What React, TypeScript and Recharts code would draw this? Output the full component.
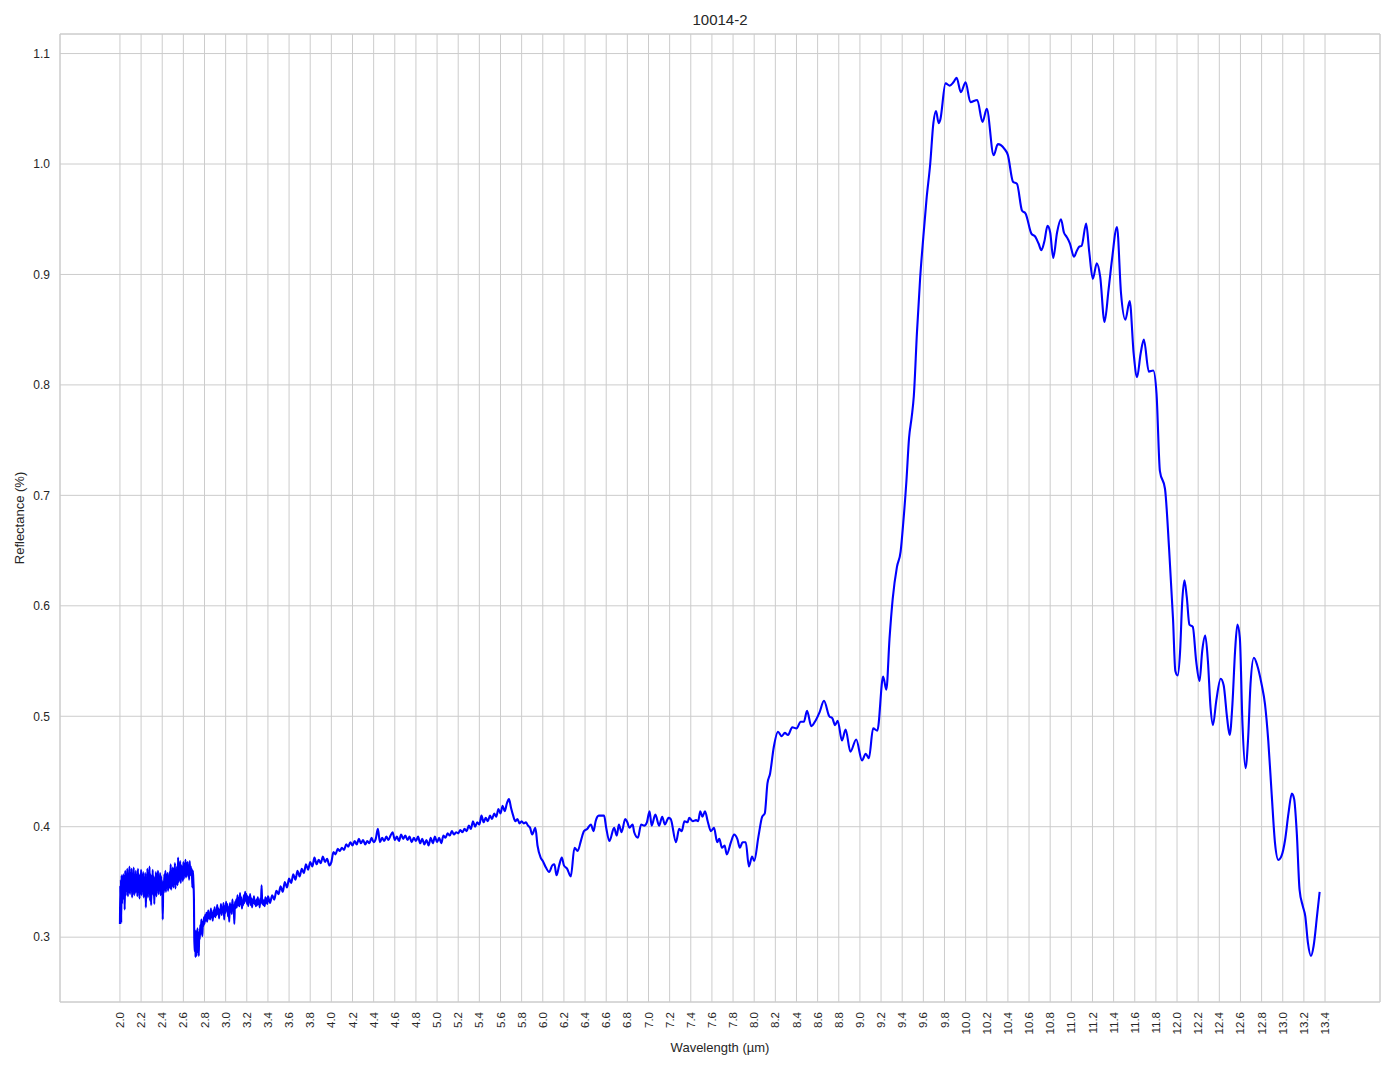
import React from "react";
import { LineChart, Line, XAxis, YAxis, CartesianGrid, ReferenceArea } from "recharts";

// wavelength (µm) / reflectance pairs, split by region
const SWIR_BAND: [number, number][] = [
  [2.000, 0.312], [2.003, 0.347], [2.006, 0.318], [2.009, 0.352], [2.012, 0.313], [2.016, 0.356],
  [2.020, 0.330], [2.024, 0.354], [2.028, 0.340], [2.032, 0.357], [2.036, 0.334], [2.040, 0.350],
  [2.045, 0.325], [2.050, 0.360], [2.055, 0.338], [2.060, 0.357], [2.065, 0.342], [2.070, 0.362],
  [2.075, 0.337], [2.080, 0.355], [2.085, 0.341], [2.090, 0.364], [2.095, 0.339], [2.100, 0.358],
  [2.105, 0.344], [2.110, 0.362], [2.115, 0.336], [2.120, 0.353], [2.125, 0.342], [2.130, 0.363],
  [2.135, 0.338], [2.140, 0.356], [2.145, 0.340], [2.150, 0.360], [2.155, 0.343], [2.160, 0.354],
  [2.165, 0.337], [2.170, 0.362], [2.175, 0.341], [2.180, 0.357], [2.185, 0.335], [2.190, 0.352],
  [2.195, 0.344], [2.200, 0.361], [2.205, 0.338], [2.210, 0.356], [2.215, 0.342], [2.220, 0.359],
  [2.225, 0.336], [2.230, 0.352], [2.235, 0.340], [2.240, 0.358], [2.245, 0.327], [2.250, 0.350],
  [2.255, 0.339], [2.260, 0.362], [2.265, 0.336], [2.270, 0.355], [2.275, 0.343], [2.280, 0.364],
  [2.285, 0.333], [2.290, 0.357], [2.295, 0.329], [2.300, 0.353], [2.305, 0.340], [2.310, 0.361],
  [2.315, 0.338], [2.320, 0.355], [2.325, 0.330], [2.330, 0.352], [2.335, 0.342], [2.340, 0.359],
  [2.345, 0.337], [2.350, 0.357], [2.355, 0.344], [2.360, 0.360], [2.365, 0.339], [2.370, 0.354],
  [2.375, 0.343], [2.380, 0.358], [2.385, 0.338], [2.390, 0.355], [2.395, 0.341], [2.400, 0.351],
  [2.405, 0.316], [2.410, 0.349], [2.415, 0.340], [2.420, 0.357], [2.425, 0.343], [2.430, 0.360],
  [2.435, 0.341], [2.440, 0.356], [2.445, 0.345], [2.450, 0.358], [2.455, 0.342], [2.460, 0.353],
  [2.465, 0.346], [2.470, 0.359], [2.475, 0.344], [2.480, 0.366], [2.485, 0.343], [2.490, 0.360],
  [2.495, 0.347], [2.500, 0.363], [2.505, 0.345], [2.510, 0.358], [2.515, 0.348], [2.520, 0.367],
  [2.525, 0.344], [2.530, 0.361], [2.535, 0.350], [2.540, 0.364], [2.545, 0.347], [2.550, 0.372],
  [2.555, 0.350], [2.560, 0.366], [2.565, 0.352], [2.570, 0.369], [2.575, 0.349], [2.580, 0.365],
  [2.585, 0.354], [2.590, 0.362], [2.595, 0.351], [2.600, 0.368], [2.605, 0.353], [2.610, 0.366],
  [2.615, 0.356], [2.620, 0.370], [2.625, 0.354], [2.630, 0.367], [2.635, 0.357], [2.640, 0.368],
  [2.645, 0.355], [2.650, 0.363], [2.655, 0.352], [2.660, 0.369], [2.665, 0.356], [2.670, 0.364],
  [2.675, 0.358], [2.680, 0.362], [2.685, 0.345],
];

const WATER_DIP: [number, number][] = [
  [2.690, 0.360], [2.695, 0.350], [2.700, 0.335], [2.703, 0.300], [2.706, 0.292], [2.709, 0.287],
  [2.712, 0.299], [2.715, 0.282], [2.718, 0.306], [2.721, 0.290], [2.724, 0.283], [2.727, 0.302],
  [2.730, 0.296], [2.734, 0.308], [2.738, 0.286], [2.742, 0.300], [2.746, 0.283], [2.750, 0.305],
  [2.755, 0.298], [2.760, 0.311], [2.765, 0.303], [2.770, 0.316], [2.775, 0.309], [2.780, 0.301],
  [2.785, 0.314], [2.790, 0.310], [2.795, 0.318], [2.800, 0.312], [2.806, 0.320], [2.812, 0.315],
  [2.818, 0.322], [2.824, 0.314], [2.830, 0.319], [2.836, 0.324], [2.842, 0.317], [2.848, 0.321],
  [2.854, 0.316], [2.860, 0.326], [2.866, 0.318], [2.872, 0.322], [2.878, 0.315], [2.884, 0.324],
  [2.890, 0.319], [2.896, 0.327], [2.902, 0.318], [2.908, 0.323], [2.914, 0.320], [2.920, 0.329],
  [2.926, 0.321], [2.932, 0.326], [2.938, 0.317], [2.944, 0.325], [2.950, 0.322], [2.956, 0.330],
  [2.962, 0.320], [2.968, 0.327], [2.974, 0.323], [2.980, 0.331], [2.986, 0.316], [2.992, 0.328],
  [2.998, 0.322], [3.004, 0.332], [3.010, 0.324], [3.016, 0.330], [3.022, 0.319], [3.028, 0.327],
  [3.034, 0.314], [3.040, 0.331], [3.046, 0.323], [3.052, 0.329], [3.058, 0.321], [3.064, 0.334],
  [3.070, 0.325], [3.076, 0.329], [3.082, 0.312], [3.088, 0.332], [3.094, 0.326], [3.100, 0.334],
  [3.106, 0.327], [3.112, 0.338], [3.118, 0.329], [3.124, 0.335], [3.130, 0.328], [3.136, 0.340],
  [3.142, 0.330], [3.148, 0.336], [3.154, 0.326], [3.160, 0.333], [3.166, 0.329], [3.172, 0.338],
  [3.178, 0.331], [3.184, 0.341], [3.190, 0.333], [3.196, 0.339], [3.202, 0.330], [3.208, 0.337],
  [3.214, 0.328], [3.220, 0.336], [3.226, 0.332], [3.232, 0.339], [3.238, 0.329], [3.244, 0.335],
  [3.250, 0.327], [3.256, 0.334], [3.262, 0.331], [3.268, 0.337], [3.274, 0.330], [3.280, 0.333],
  [3.286, 0.328], [3.292, 0.334], [3.298, 0.329], [3.304, 0.336], [3.310, 0.330], [3.316, 0.333],
  [3.322, 0.327], [3.328, 0.335], [3.334, 0.331], [3.340, 0.347], [3.346, 0.330], [3.352, 0.334],
  [3.358, 0.329], [3.364, 0.333], [3.370, 0.328], [3.376, 0.336], [3.382, 0.331], [3.388, 0.335],
  [3.394, 0.330], [3.400, 0.337],
];

const MWIR_RISE: [number, number][] = [
  [3.42, 0.331], [3.44, 0.338], [3.46, 0.334], [3.48, 0.342], [3.50, 0.339], [3.52, 0.346],
  [3.54, 0.341], [3.56, 0.350], [3.58, 0.345], [3.60, 0.353], [3.62, 0.349], [3.64, 0.357],
  [3.66, 0.352], [3.68, 0.360], [3.70, 0.355], [3.72, 0.362], [3.74, 0.358], [3.76, 0.366],
  [3.78, 0.361], [3.80, 0.368], [3.82, 0.364], [3.84, 0.372], [3.86, 0.366], [3.88, 0.370],
  [3.90, 0.367], [3.92, 0.373], [3.94, 0.368], [3.96, 0.371], [3.98, 0.365], [4.00, 0.368],
  [4.02, 0.377], [4.04, 0.375], [4.06, 0.380], [4.08, 0.378], [4.10, 0.381], [4.12, 0.379],
  [4.14, 0.384], [4.16, 0.382], [4.18, 0.386], [4.20, 0.383], [4.22, 0.387], [4.24, 0.384],
  [4.26, 0.389], [4.28, 0.385], [4.30, 0.388], [4.32, 0.384], [4.34, 0.387], [4.36, 0.385],
  [4.38, 0.390], [4.40, 0.386], [4.42, 0.389], [4.44, 0.398], [4.46, 0.386], [4.48, 0.390],
  [4.50, 0.387], [4.52, 0.391], [4.54, 0.388], [4.56, 0.392], [4.58, 0.395], [4.60, 0.388],
  [4.62, 0.391], [4.64, 0.387], [4.66, 0.393], [4.68, 0.389], [4.70, 0.392], [4.72, 0.388],
  [4.74, 0.391], [4.76, 0.386], [4.78, 0.390], [4.80, 0.387], [4.82, 0.391], [4.84, 0.385],
  [4.86, 0.389], [4.88, 0.384], [4.90, 0.388], [4.92, 0.383], [4.94, 0.390], [4.96, 0.385],
  [4.98, 0.391], [5.00, 0.386], [5.02, 0.390], [5.04, 0.385], [5.06, 0.392], [5.08, 0.390],
  [5.10, 0.394], [5.12, 0.392], [5.14, 0.396], [5.16, 0.393], [5.18, 0.395], [5.20, 0.394],
  [5.22, 0.397], [5.24, 0.395], [5.26, 0.398], [5.28, 0.396], [5.30, 0.401], [5.32, 0.398],
  [5.34, 0.405], [5.36, 0.400], [5.38, 0.404], [5.40, 0.402], [5.42, 0.410], [5.44, 0.404],
  [5.46, 0.408], [5.48, 0.405], [5.50, 0.410], [5.52, 0.407], [5.54, 0.412], [5.56, 0.409],
  [5.58, 0.416], [5.60, 0.412], [5.62, 0.419], [5.64, 0.414], [5.66, 0.421], [5.68, 0.425],
  [5.70, 0.417], [5.72, 0.410], [5.74, 0.405], [5.76, 0.407], [5.78, 0.403], [5.80, 0.405],
  [5.82, 0.403], [5.84, 0.404], [5.86, 0.401], [5.88, 0.399],
];

const MID_PLATEAU: [number, number][] = [
  [5.90, 0.393], [5.93, 0.399], [5.95, 0.383], [5.98, 0.372], [6.00, 0.369], [6.03, 0.363],
  [6.06, 0.359], [6.09, 0.365], [6.11, 0.366], [6.13, 0.356], [6.155, 0.365], [6.18, 0.372],
  [6.20, 0.365], [6.23, 0.362], [6.265, 0.355], [6.30, 0.381], [6.33, 0.378], [6.36, 0.387],
  [6.39, 0.396], [6.42, 0.398], [6.455, 0.402], [6.48, 0.396], [6.50, 0.405], [6.53, 0.410],
  [6.58, 0.410], [6.60, 0.399], [6.63, 0.387], [6.675, 0.399], [6.70, 0.392], [6.72, 0.402],
  [6.745, 0.395], [6.78, 0.407], [6.80, 0.404], [6.82, 0.399], [6.85, 0.402], [6.865, 0.395],
  [6.90, 0.390], [6.93, 0.402], [6.96, 0.401], [6.985, 0.404], [7.01, 0.414], [7.03, 0.401],
  [7.065, 0.411], [7.10, 0.401], [7.13, 0.409], [7.155, 0.402], [7.19, 0.408], [7.21, 0.407],
  [7.26, 0.386], [7.29, 0.398], [7.315, 0.396], [7.34, 0.405], [7.37, 0.404], [7.385, 0.408],
  [7.42, 0.405], [7.45, 0.406], [7.47, 0.405], [7.49, 0.414], [7.51, 0.409], [7.535, 0.414],
  [7.56, 0.405], [7.59, 0.396], [7.62, 0.399], [7.65, 0.386], [7.67, 0.389], [7.695, 0.381],
  [7.72, 0.383], [7.74, 0.375], [7.78, 0.386], [7.81, 0.393], [7.84, 0.389], [7.865, 0.381],
  [7.89, 0.386], [7.92, 0.386], [7.95, 0.364], [7.98, 0.373], [8.00, 0.369], [8.04, 0.391],
  [8.075, 0.409], [8.10, 0.412], [8.125, 0.439], [8.15, 0.448], [8.185, 0.472], [8.225, 0.486],
  [8.26, 0.482], [8.29, 0.485], [8.32, 0.483], [8.36, 0.490], [8.40, 0.489], [8.44, 0.495],
  [8.47, 0.495], [8.50, 0.505], [8.54, 0.491], [8.58, 0.496], [8.62, 0.504], [8.66, 0.514],
  [8.71, 0.500], [8.74, 0.498], [8.765, 0.492], [8.79, 0.496], [8.83, 0.478], [8.865, 0.488],
  [8.91, 0.468], [8.965, 0.479], [9.02, 0.460], [9.055, 0.466], [9.085, 0.462], [9.125, 0.489],
  [9.165, 0.487], [9.22, 0.536], [9.25, 0.524],
];

const RESTSTRAHLEN: [number, number][] = [
  [9.28, 0.570], [9.31, 0.606], [9.35, 0.635], [9.385, 0.649], [9.41, 0.675], [9.44, 0.713],
  [9.465, 0.752], [9.49, 0.771], [9.51, 0.790], [9.54, 0.848], [9.57, 0.897], [9.60, 0.934],
  [9.63, 0.968], [9.665, 1.000], [9.695, 1.037], [9.72, 1.048], [9.745, 1.037], [9.76, 1.040],
  [9.81, 1.073], [9.85, 1.071], [9.885, 1.074], [9.915, 1.078], [9.955, 1.065], [10.00, 1.074],
  [10.045, 1.056], [10.11, 1.058], [10.16, 1.038], [10.20, 1.050], [10.265, 1.008], [10.305, 1.018],
  [10.365, 1.014], [10.40, 1.008], [10.448, 0.984], [10.486, 0.982], [10.533, 0.958], [10.568, 0.955],
  [10.622, 0.937], [10.66, 0.934], [10.69, 0.928], [10.717, 0.922], [10.745, 0.930], [10.775, 0.944],
  [10.80, 0.938], [10.829, 0.915], [10.865, 0.938], [10.902, 0.950], [10.93, 0.938], [10.956, 0.934],
  [10.987, 0.928], [11.025, 0.916], [11.05, 0.921], [11.073, 0.925], [11.098, 0.926], [11.14, 0.946],
  [11.17, 0.920], [11.203, 0.896], [11.241, 0.910], [11.273, 0.898], [11.314, 0.857], [11.352, 0.886],
  [11.384, 0.913], [11.432, 0.943], [11.47, 0.883], [11.511, 0.859], [11.552, 0.876], [11.59, 0.828],
  [11.622, 0.807], [11.655, 0.828], [11.686, 0.841], [11.733, 0.812], [11.775, 0.813], [11.806, 0.792],
  [11.838, 0.722], [11.886, 0.706], [11.924, 0.653], [11.962, 0.588], [11.984, 0.541], [12.006, 0.537],
  [12.029, 0.559], [12.048, 0.602], [12.07, 0.623], [12.092, 0.608], [12.117, 0.583], [12.149, 0.581],
  [12.181, 0.550], [12.213, 0.532], [12.238, 0.559], [12.267, 0.573], [12.292, 0.550], [12.317, 0.508],
  [12.34, 0.492], [12.371, 0.514], [12.413, 0.534], [12.441, 0.528], [12.473, 0.499], [12.498, 0.483],
  [12.524, 0.511], [12.549, 0.559], [12.571, 0.583], [12.594, 0.571], [12.619, 0.493], [12.648, 0.453],
  [12.673, 0.481], [12.695, 0.529], [12.727, 0.553], [12.759, 0.546], [12.80, 0.529], [12.832, 0.511],
  [12.863, 0.478], [12.895, 0.430], [12.927, 0.385], [12.959, 0.370], [12.99, 0.374], [13.022, 0.388],
  [13.054, 0.412], [13.086, 0.430], [13.108, 0.425], [13.133, 0.394], [13.159, 0.343], [13.19, 0.328],
  [13.213, 0.319], [13.238, 0.295], [13.267, 0.283], [13.292, 0.292], [13.324, 0.319], [13.349, 0.341],
];

const X_TICKS = [
  2.0, 2.2, 2.4, 2.6, 2.8, 3.0, 3.2, 3.4, 3.6, 3.8, 4.0, 4.2, 4.4, 4.6, 4.8, 5.0, 5.2, 5.4, 5.6, 5.8,
  6.0, 6.2, 6.4, 6.6, 6.8, 7.0, 7.2, 7.4, 7.6, 7.8, 8.0, 8.2, 8.4, 8.6, 8.8, 9.0, 9.2, 9.4, 9.6, 9.8,
  10.0, 10.2, 10.4, 10.6, 10.8, 11.0, 11.2, 11.4, 11.6, 11.8, 12.0, 12.2, 12.4, 12.6, 12.8, 13.0,
  13.2, 13.4,
];
const Y_TICKS = [0.3, 0.4, 0.5, 0.6, 0.7, 0.8, 0.9, 1.0, 1.1];

const X_DOMAIN: [number, number] = [1.433, 13.92];
const Y_DOMAIN: [number, number] = [0.2413, 1.1177];

const FONT = '"Liberation Sans", Arial, sans-serif';
const TEXT = "#262626";
const GRID = "#cccccc";

const spectrum = [...SWIR_BAND, ...WATER_DIP, ...MWIR_RISE, ...MID_PLATEAU, ...RESTSTRAHLEN].map(
  ([w, r]) => ({ w, r })
);

function RotatedTick(props: any) {
  const { x, y, payload } = props;
  return (
    <g transform={`translate(${x},${y}) rotate(-90)`}>
      <text x={0} y={0} dy="0.35em" textAnchor="end" fontSize={11.5} fontFamily={FONT} fill={TEXT}>
        {Number(payload.value).toFixed(1)}
      </text>
    </g>
  );
}

export default function App() {
  return (
    <div style={{ position: "absolute", left: 0, top: 0, width: 1394, height: 1069, background: "#fff", fontFamily: FONT }}>
      <LineChart width={1394} height={1069} data={spectrum} margin={{ top: 34, right: 14, bottom: 0, left: 0 }}>
        <CartesianGrid stroke={GRID} strokeWidth={1} />
        <XAxis
          dataKey="w"
          type="number"
          domain={X_DOMAIN}
          ticks={X_TICKS}
          interval={0}
          allowDataOverflow
          height={67}
          tickSize={0}
          tickMargin={10}
          axisLine={false}
          tickLine={false}
          tick={<RotatedTick />}
        />
        <YAxis
          type="number"
          domain={Y_DOMAIN}
          ticks={Y_TICKS}
          interval={0}
          allowDataOverflow
          width={60}
          tickLine={false}
          axisLine={false}
          tickMargin={4}
          tickFormatter={(v: number) => v.toFixed(1)}
          tick={{ fontSize: 12, fill: TEXT, fontFamily: FONT }}
        />
        <ReferenceArea
          x1={X_DOMAIN[0]}
          x2={X_DOMAIN[1]}
          y1={Y_DOMAIN[0]}
          y2={Y_DOMAIN[1]}
          fill="none"
          stroke={GRID}
          strokeWidth={1}
        />
        <Line
          dataKey="r"
          type="monotone"
          stroke="#0000ff"
          strokeWidth={2.1}
          dot={false}
          activeDot={false}
          isAnimationActive={false}
        />
      </LineChart>
      <div style={{ position: "absolute", left: 60, width: 1320, top: 11, textAlign: "center", fontSize: 15, color: TEXT }}>
        10014-2
      </div>
      <div style={{ position: "absolute", left: 60, width: 1320, top: 1040, textAlign: "center", fontSize: 13, color: TEXT }}>
        Wavelength (µm)
      </div>
      <div
        style={{
          position: "absolute",
          left: 19,
          top: 518,
          transform: "translate(-50%, -50%) rotate(-90deg)",
          whiteSpace: "nowrap",
          fontSize: 13,
          color: TEXT,
        }}
      >
        Reflectance (%)
      </div>
    </div>
  );
}
